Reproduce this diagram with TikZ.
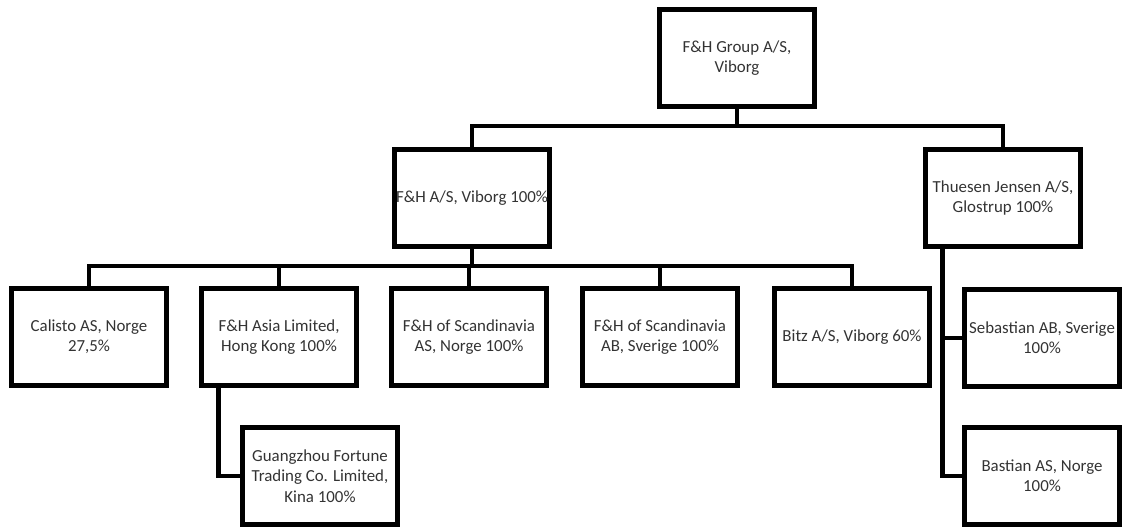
\documentclass[tikz,border=0pt]{standalone}
\usepackage{fontspec}
\setmainfont{Carlito}
\usetikzlibrary{positioning}

\begin{document}
\begin{tikzpicture}[
    x=0.025cm, y=-0.025cm,
    font=\fontsize{12}{14.5}\selectfont,
    unit/.style={rectangle, draw, line width=3.4pt, minimum width=3.875cm, minimum height=2.42cm, inner sep=0pt, align=center, text=black!80},
    link/.style={line width=3.4pt}
  ]
  \useasboundingbox (0,0) rectangle (1123,529);

  % Parent company
  \node[unit] (grp) at (737,58) {F\&H Group A/S,\\Viborg};

  % Second level
  \node[unit] (fh) at (472,198) {F\&H A/S, Viborg 100\%};
  \node[unit] (tj) at (1003,198) {Thuesen Jensen A/S,\\Glostrup 100\%};

  % Subsidiaries of F&H A/S
  \node[unit] (calisto) at (89,337) {Calisto AS, Norge\\27,5\%};
  \node[unit] (asia) at (279,337) {F\&H Asia Limited,\\Hong Kong 100\%};
  \node[unit] (scanas) at (469,337) {F\&H of Scandinavia\\AS, Norge 100\%};
  \node[unit] (scanab) at (660,337) {F\&H of Scandinavia\\AB, Sverige 100\%};
  \node[unit] (bitz) at (852,337) {Bitz A/S, Viborg 60\%};
  \node[unit] (gz) at (320,476) {Guangzhou Fortune\\Trading Co. Limited,\\Kina 100\%};

  % Subsidiaries of Thuesen Jensen
  \node[unit] (seb) at (1042,338) {Sebastian AB, Sverige\\100\%};
  \node[unit] (bast) at (1042,476) {Bastian AS, Norge\\100\%};

  % Junctions
  \coordinate (bar1) at (737,126);
  \coordinate (bar2) at (472,266);

  % Connectors
  \draw[link] (grp.south) -- (bar1);
  \draw[link] (fh.north) |- (bar1) -| (tj.north);
  \draw[link] (fh.south) -- (bar2);
  \draw[link] (calisto.north) |- (bar2) -| (bitz.north);
  \draw[link] (asia.north) |- (bar2);
  \draw[link] (scanas.north) |- (bar2);
  \draw[link] (scanab.north) |- (bar2);
  \draw[link] ([xshift=0.48cm]asia.south west) |- (gz.west);
  \draw[link] ([xshift=0.48cm]tj.south west) |- (bast.west);
  \draw[link] ([xshift=0.48cm]tj.south west) |- (seb.west);
\end{tikzpicture}
\end{document}
